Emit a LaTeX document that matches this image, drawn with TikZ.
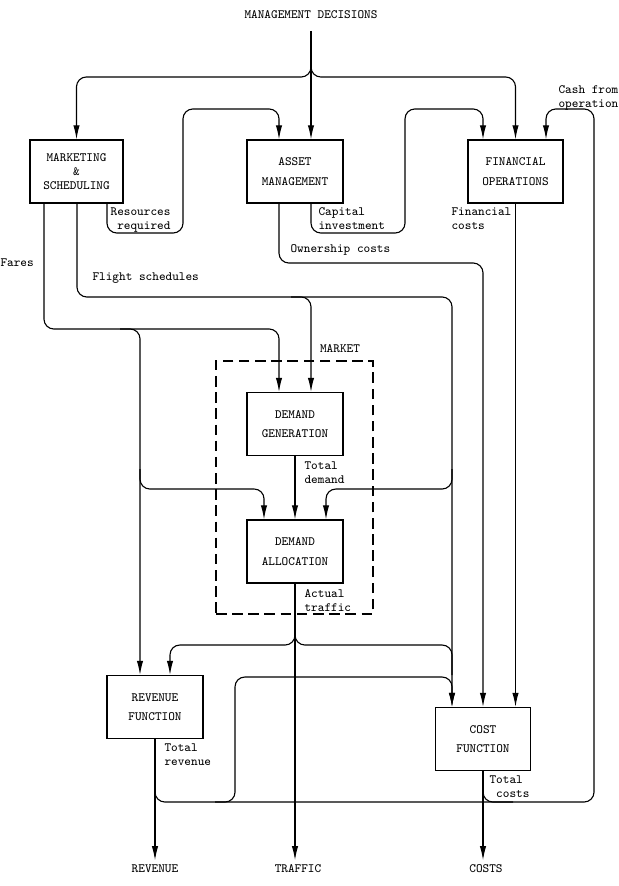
\documentclass[tikz,border=0pt]{standalone}
\usepackage{fontspec}
\usetikzlibrary{arrows.meta}

\begin{document}
\begin{tikzpicture}[x=0.025cm,y=-0.025cm,line width=0.8pt,
    box/.style={draw,align=center,minimum width=2.4cm,minimum height=1.575cm,inner sep=0pt},
    flow/.style={rounded corners=7pt},
    arr/.style={-{Latex[length=10pt,width=4.5pt]}},
    lbl/.style={inner sep=0pt,align=left}]
                        \useasboundingbox (0,0) rectangle (618,886);
                        {\ttfamily\fontsize{9}{9.8}\selectfont

                        % Marking blocks
                        \node (mgmt) at (311,15) {MANAGEMENT DECISIONS};
                        \node [box,minimum width=2.325cm] (mkt) at (76.5,171.5) {MARKETING\\\&\\SCHEDULING};
                        \node [box] (asset) at (295,171.5) {ASSET\\[4pt]MANAGEMENT};
                        \node [box,minimum width=2.375cm] (fin) at (515.5,171.5) {FINANCIAL\\[4pt]OPERATIONS};
                        \node [box] (dgen) at (295,424) {DEMAND\\[4pt]GENERATION};
                        \node [box] (dall) at (295,551.5) {DEMAND\\[4pt]ALLOCATION};
                        \node [box] (rev) at (155,707) {REVENUE\\[4pt]FUNCTION};
                        \node [box,minimum width=2.375cm] (cost) at (483,739) {COST\\[4pt]FUNCTION};
                        \node (revout) at (155,869) {REVENUE};
                        \node (trafout) at (298,869) {TRAFFIC};
                        \node (costout) at (486,869) {COSTS};

                        % Marking market by dashed box
                        \node [draw,dash pattern=on 7.5pt off 4pt,minimum width=3.925cm,minimum height=6.325cm] (market) at (294.5,487.5) {};
                        \node (marketl) at (340,349) {MARKET};

                        % Bend points
                        \coordinate (split) at (311,60);
                        \coordinate (fork) at (311,77);
                        \coordinate (res) at (107,233);
                        \coordinate (resTop) at (279,109);
                        \coordinate (cap) at (311,233);
                        \coordinate (capTop) at (483,109);
                        \coordinate (cashTop) at (546,109);
                        \coordinate (botL) at (155,802);
                        \coordinate (botR) at (594,802);
                        \coordinate (feed) at (235,802);
                        \coordinate (feedTop) at (235,677);
                        \coordinate (costBr) at (483,802);
                        \coordinate (fare) at (44,329);
                        \coordinate (fareIn) at (279,329);
                        \coordinate (fareBr) at (140,329);
                        \coordinate (allL) at (140,489);
                        \coordinate (allLIn) at (264,489);
                        \coordinate (flt) at (77,297);
                        \coordinate (fltR) at (452,297);
                        \coordinate (fltBr) at (311,297);
                        \coordinate (allR) at (452,489);
                        \coordinate (allRIn) at (326,489);
                        \coordinate (own) at (279,263);
                        \coordinate (ownR) at (483,263);
                        \coordinate (trf) at (295,645);
                        \coordinate (revIn) at (170,645);
                        \coordinate (trfR) at (452,645);

                        % Drawing line management decisions
                        \draw ([yshift=-5pt]mgmt.south) -- (split);
                        \draw [arr] (split) -- (split |- asset.north);
                        \draw [flow,arr] (split) -- (fork) -| (mkt.north);
                        \draw [flow,arr] (split) -- (fork) -| (fin.north);

                        % Drawing line resources required
                        \draw [flow,arr] (mkt.south -| res) -- (res) -- (183,233) -- (183,109) -- (resTop) -- (resTop |- asset.north);

                        % Drawing line capital investment
                        \draw [flow,arr] (asset.south -| cap) -- (cap) -- (405,233) -- (405,109) -- (capTop) -- (capTop |- fin.north);

                        % Drawing line cash from operation
                        \draw [flow,arr] ([shift={(0,-25)}]botL) -- (botL) -- (botR) -- (botR |- cashTop) -- (cashTop) -- (cashTop |- fin.north);
                        \draw [flow,arr] ([shift={(-20,0)}]feed) -- (feed) -- (feedTop) -- (feedTop -| fltR) -- (fltR |- cost.north);
                        \draw [flow] ([shift={(0,-25)}]costBr) -- (costBr) -- ([shift={(30,0)}]costBr);

                        % Drawing line fares
                        \draw [flow,arr] (mkt.south -| fare) -- (fare) -- (fareIn) -- (fareIn |- dgen.north);
                        \draw [flow,arr] ([shift={(-20,0)}]fareBr) -- (fareBr) -- (fareBr |- rev.north);
                        \draw [flow,arr] ([shift={(0,-20)}]allL) -- (allL) -- (allLIn) -- (allLIn |- dall.north);

                        % Drawing line flight schedules
                        \draw [flow,arr] (mkt.south -| flt) -- (flt) -- (fltR) -- (fltR |- cost.north);
                        \draw [flow,arr] ([shift={(-20,0)}]fltBr) -- (fltBr) -- (fltBr |- dgen.north);
                        \draw [flow,arr] ([shift={(0,-20)}]allR) -- (allR) -- (allRIn) -- (allRIn |- dall.north);

                        % Drawing line ownership costs
                        \draw [flow,arr] (asset.south -| own) -- (own) -- (ownR) -- (ownR |- cost.north);

                        % Drawing line financial costs
                        \draw [arr] (fin.south) -- (fin.south |- cost.north);

                        % Drawing lines demand and traffic
                        \draw [arr] (dgen.south) -- (dall.north);
                        \draw [arr] (dall.south) -- (dall.south |- trafout.north);
                        \draw [flow,arr] ([shift={(0,-20)}]trf) -- (trf) -- (revIn) -- (revIn |- rev.north);
                        \draw [flow] ([shift={(0,-20)}]trf) -- (trf) -- (trfR) -- ([shift={(0,30)}]trfR);

                        % Drawing lines to outputs
                        \draw [arr] (rev.south) -- (rev.south |- revout.north);
                        \draw [arr] (cost.south) -- (cost.south |- costout.north);

                        % Marking labels
                        \node [lbl,anchor=north east,align=right] (resl) at (171,207) {Resources\\required};
                        \node [lbl,anchor=north west] (capl) at (318,207) {Capital\\investment};
                        \node [lbl,anchor=north west] (finl) at (451,207) {Financial\\costs};
                        \node [lbl,anchor=north west] (cashl) at (558,85) {Cash from\\operation};
                        \node [lbl,anchor=north west] (ownl) at (290,244) {Ownership costs};
                        \node [lbl,anchor=north west] (fltl) at (92,272) {Flight schedules};
                        \node [lbl,anchor=north west] (farel) at (0,258) {Fares};
                        \node [lbl,anchor=north west] (demandl) at (304,461) {Total\\demand};
                        \node [lbl,anchor=north west] (trafl) at (304,589) {Actual\\traffic};
                        \node [lbl,anchor=north west] (revl) at (164,743) {Total\\revenue};
                        \node [lbl,anchor=north west] (costl) at (489,775) {Total\\\ costs};
                        }
\end{tikzpicture}
\end{document}
